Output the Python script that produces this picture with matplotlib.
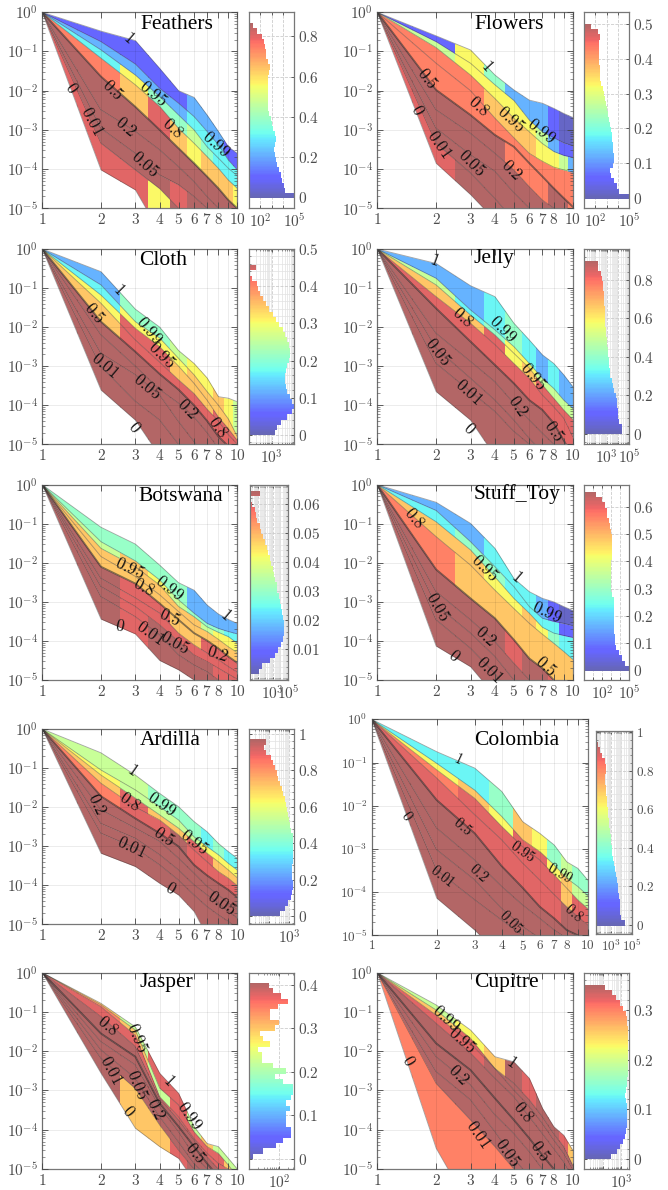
import numpy as np
import matplotlib
matplotlib.use("Agg")
import matplotlib.pyplot as plt
from matplotlib.patches import Rectangle
from matplotlib.ticker import FixedLocator, NullFormatter, LogLocator, AutoMinorLocator

plt.rcParams["mathtext.fontset"] = "cm"
plt.rcParams["font.family"] = ["Liberation Serif", "DejaVu Serif"]

W, H = 668, 1190

levels = ["0", "0.01", "0.05", "0.2", "0.5", "0.8", "0.95", "0.99", "1"]
x_nodes = [1, 2, 3, 4, 5, 6, 7, 8, 9, 10]
x_tick_text = ["1", "2", "3", "4", "5", "6", "7", "8", "", "10"]
bin_edges = [1, 1.5, 2.5, 3.5, 4.5, 5.5, 6.5, 7.5, 8.5, 9.5, 10]
# colour steps used in the band tables (0 blue ... 9 dark red, a salmon)
jet_steps = {"0": 0.03, "1": 0.12, "2": 0.25, "3": 0.36, "4": 0.45, "5": 0.55, "6": 0.65,
             "7": 0.74, "8": 0.93, "9": 1.0, "a": 0.86}

# log10 of each quantile curve at x = 2..10, from level 0 up to level 1
feathers_curves = [
    [-4.02, -4.53, -5.6, -6.0, -6.3, -6.6, -6.9, -7.1, -7.3],
    [-3.34, -4.02, -4.5, -5.0, -5.4, -5.8, -6.0, -6.2, -6.4],
    [-2.96, -3.6, -4.15, -4.4, -4.7, -5.0, -5.3, -5.6, -5.9],
    [-2.49, -3.04, -3.51, -3.94, -4.32, -4.7, -5.0, -5.3, -5.6],
    [-1.64, -2.41, -3.0, -3.47, -3.85, -4.19, -4.49, -4.79, -5.0],
    [-1.17, -1.85, -2.4, -2.96, -3.34, -3.68, -3.98, -4.28, -4.49],
    [-0.96, -1.6, -2.15, -2.62, -3.0, -3.43, -3.72, -3.98, -4.17],
    [-0.75, -1.32, -1.94, -2.32, -2.66, -3.04, -3.38, -3.77, -4.02],
    [-0.48, -0.72, -1.43, -2.0, -2.17, -2.62, -3.04, -3.43, -3.6],
]
flowers_curves = [
    [-3.85, -4.65, -5.3, -5.9, -6.3, -6.6, -6.9, -7.1, -7.3],
    [-3.34, -4.1, -4.75, -5.3, -5.7, -6.0, -6.3, -6.5, -6.7],
    [-2.96, -3.64, -4.06, -4.6, -5.0, -5.4, -5.7, -6.0, -6.2],
    [-2.49, -3.09, -3.6, -4.02, -4.45, -4.79, -5.0, -5.2, -5.4],
    [-1.98, -2.62, -3.13, -3.43, -3.85, -4.19, -4.49, -4.74, -4.96],
    [-1.3, -2.0, -2.7, -3.2, -3.6, -3.8, -3.95, -4.02, -4.08],
    [-0.9, -1.6, -2.2, -2.7, -3.05, -3.35, -3.55, -3.65, -3.7],
    [-0.75, -1.3, -1.85, -2.25, -2.75, -3.05, -3.2, -3.33, -3.4],
    [-0.6, -0.96, -1.6, -1.98, -2.24, -2.32, -2.45, -2.58, -2.68],
]
cloth_curves = [
    [-3.61, -4.38, -5.3, -5.8, -6.2, -6.6, -6.9, -7.2, -7.4],
    [-3.01, -3.9, -4.38, -5.0, -5.5, -5.9, -6.2, -6.5, -6.7],
    [-2.67, -3.22, -3.74, -4.42, -4.93, -5.4, -5.8, -6.1, -6.3],
    [-2.2, -3.0, -3.6, -3.95, -4.3, -4.7, -5.1, -5.4, -5.7],
    [-1.86, -2.63, -3.2, -3.6, -4.0, -4.4, -4.8, -5.05, -5.3],
    [-1.39, -2.33, -2.9, -3.35, -3.7, -4.1, -4.4, -4.75, -5.0],
    [-1.18, -2.03, -2.5, -3.0, -3.44, -3.87, -4.3, -4.6, -4.9],
    [-0.92, -1.86, -2.28, -2.8, -3.22, -3.65, -4.0, -4.35, -4.8],
    [-0.58, -1.54, -2.0, -2.6, -2.93, -3.3, -3.78, -3.82, -3.91],
]
jelly_curves = [
    [-3.65, -4.38, -5.3, -5.8, -6.2, -6.5, -6.8, -7.0, -7.2],
    [-2.93, -3.65, -4.16, -4.67, -5.0, -5.4, -5.7, -6.0, -6.2],
    [-2.54, -3.31, -3.87, -4.38, -4.85, -5.2, -5.5, -5.8, -6.0],
    [-2.16, -2.88, -3.4, -3.95, -4.38, -4.72, -5.0, -5.3, -5.5],
    [-1.52, -2.37, -2.97, -3.44, -3.87, -4.12, -4.46, -4.9, -5.3],
    [-1.22, -1.9, -2.45, -2.93, -3.31, -3.74, -4.04, -4.33, -4.8],
    [-0.92, -1.69, -2.2, -2.67, -3.05, -3.48, -3.82, -4.12, -4.36],
    [-0.75, -1.56, -2.07, -2.5, -2.93, -3.31, -3.57, -3.87, -4.08],
    [-0.37, -0.94, -1.22, -1.9, -2.33, -2.71, -2.93, -3.22, -3.52],
]
botswana_curves = [
    [-3.44, -3.82, -4.5, -4.74, -5.0, -5.3, -5.5, -5.7, -5.9],
    [-2.87, -3.38, -3.85, -4.36, -4.62, -4.79, -5.0, -5.2, -5.3],
    [-2.61, -3.12, -3.59, -4.02, -4.36, -4.53, -4.7, -4.85, -4.98],
    [-2.4, -2.9, -3.29, -3.8, -4.1, -4.31, -4.48, -4.66, -4.8],
    [-2.1, -2.53, -3.04, -3.46, -3.8, -3.99, -4.19, -4.4, -4.56],
    [-1.84, -2.35, -2.82, -3.25, -3.59, -3.76, -3.96, -4.15, -4.3],
    [-1.63, -2.1, -2.57, -3.12, -3.38, -3.64, -3.78, -3.89, -4.06],
    [-1.46, -1.95, -2.44, -2.95, -3.29, -3.55, -3.68, -3.76, -3.82],
    [-1.09, -1.52, -2.06, -2.51, -2.7, -3.08, -3.31, -3.45, -3.55],
]
stuff_toy_curves = [
    [-4.13, -4.66, -5.4, -5.9, -6.3, -6.6, -6.9, -7.1, -7.3],
    [-3.46, -4.19, -4.83, -5.5, -5.9, -6.2, -6.5, -6.7, -6.9],
    [-3.08, -3.8, -4.4, -5.0, -5.4, -5.8, -6.1, -6.3, -6.5],
    [-2.74, -3.46, -4.02, -4.57, -5.0, -5.4, -5.7, -6.0, -6.2],
    [-2.17, -2.91, -3.42, -3.97, -4.45, -4.7, -5.0, -5.3, -5.5],
    [-1.33, -2.06, -2.7, -3.17, -3.55, -3.83, -4.06, -4.27, -4.47],
    [-0.95, -1.67, -2.36, -2.91, -3.29, -3.65, -3.8, -3.86, -3.91],
    [-0.66, -1.46, -2.1, -2.61, -3.12, -3.42, -3.5, -3.55, -3.61],
    [-0.45, -0.99, -1.63, -2.4, -2.74, -2.91, -3.0, -3.12, -3.22],
]
ardilla_curves = [
    [-3.18, -3.52, -3.95, -4.25, -4.67, -5.3, -5.7, -6.0, -6.2],
    [-2.67, -3.05, -3.48, -3.87, -4.25, -4.55, -4.76, -4.93, -5.1],
    [-2.42, -2.8, -3.22, -3.61, -3.99, -4.25, -4.46, -4.67, -4.84],
    [-2.07, -2.54, -2.88, -3.31, -3.69, -4.03, -4.25, -4.46, -4.63],
    [-1.72, -2.29, -2.67, -3.01, -3.48, -3.75, -3.95, -4.12, -4.31],
    [-1.39, -2.0, -2.33, -2.71, -3.1, -3.4, -3.65, -3.82, -4.01],
    [-1.18, -1.77, -2.2, -2.54, -2.88, -3.18, -3.4, -3.61, -3.81],
    [-1.05, -1.56, -1.99, -2.33, -2.76, -3.01, -3.22, -3.44, -3.61],
    [-0.61, -1.18, -1.65, -1.99, -2.37, -2.63, -2.93, -3.14, -3.31],
]
colombia_curves = [
    [-4.14, -4.88, -5.5, -6.0, -6.4, -6.7, -7.0, -7.2, -7.4],
    [-3.49, -4.18, -4.65, -5.0, -5.4, -5.7, -6.0, -6.2, -6.4],
    [-3.02, -3.72, -4.38, -4.8, -5.07, -5.4, -5.7, -5.9, -6.1],
    [-2.52, -3.26, -3.87, -4.3, -4.61, -4.88, -5.07, -5.3, -5.5],
    [-1.87, -2.64, -3.4, -3.9, -4.34, -4.61, -4.88, -5.0, -5.2],
    [-1.36, -2.21, -2.79, -3.33, -3.72, -4.06, -4.34, -4.57, -4.76],
    [-1.17, -1.83, -2.48, -2.95, -3.26, -3.6, -3.91, -4.18, -4.38],
    [-1.02, -1.64, -2.25, -2.79, -3.06, -3.37, -3.68, -3.87, -4.08],
    [-0.75, -1.13, -1.67, -2.37, -2.64, -2.91, -3.3, -3.45, -3.72],
]
jasper_curves = [
    [-2.56, -3.96, -4.43, -4.73, -5.3, -5.7, -6.0, -6.2, -6.4],
    [-2.18, -2.95, -3.88, -4.52, -5.0, -5.4, -5.7, -6.0, -6.2],
    [-1.97, -2.69, -3.67, -4.31, -4.86, -5.2, -5.5, -5.8, -6.0],
    [-1.76, -2.35, -3.41, -4.05, -4.65, -5.0, -5.3, -5.6, -5.8],
    [-1.55, -2.14, -3.33, -3.92, -4.43, -4.86, -5.2, -5.4, -5.6],
    [-1.12, -1.88, -3.2, -3.75, -4.26, -4.69, -5.0, -5.3, -5.5],
    [-0.87, -1.59, -3.16, -3.67, -4.22, -4.6, -4.86, -5.0, -5.3],
    [-0.82, -1.46, -2.94, -3.37, -4.05, -4.43, -4.6, -4.9, -5.2],
    [-0.78, -1.38, -2.56, -3.07, -3.92, -4.35, -4.43, -4.73, -5.0],
]
cupitre_curves = [
    [-4.47, -6.0, -6.8, -7.3, -7.7, -8.0, -8.3, -8.5, -8.7],
    [-2.82, -3.75, -4.43, -5.0, -5.5, -5.9, -6.2, -6.5, -6.7],
    [-2.52, -3.24, -4.05, -4.73, -5.2, -5.6, -5.9, -6.2, -6.4],
    [-2.14, -2.86, -3.62, -4.1, -4.56, -5.0, -5.3, -5.6, -5.8],
    [-1.8, -2.48, -3.2, -3.75, -4.22, -4.65, -5.0, -5.3, -5.5],
    [-1.29, -2.05, -2.69, -3.16, -3.67, -4.1, -4.48, -4.82, -5.2],
    [-1.08, -1.8, -2.44, -2.99, -3.41, -3.84, -4.26, -4.6, -5.0],
    [-0.95, -1.67, -2.44, -2.82, -3.24, -3.67, -4.1, -4.43, -4.9],
    [-0.82, -1.46, -2.14, -2.27, -2.69, -3.45, -3.92, -4.14, -4.52],
]

# colour of each band in each x bin, bands from the lowest up to the top one
feathers_bands = ["8886999999", "9999899999", "9999999999", "9999999999",
                  "aa78767776", "3364454333", "2222233333", "1111122211"]
flowers_bands = ["8899999999", "9999999999", "9999999999", "9999aaa99a",
                 "aaaaaaaaaa", "aaa7776652", "5566665211", "1164222100"]
cloth_bands = ["9999999999", "9999999999", "9999999999", "9999999999",
               "7788888888", "6688777888", "3366677777", "2244566765"]
jelly_bands = ["9999999999", "9999999999", "9999999999", "9999999999",
               "8888888888", "7778678888", "5534665555", "2223432322"]
botswana_bands = ["9989999999", "9989999888", "9988888888", "9988778888",
                  "7777777777", "7777775666", "5576544433", "4444422222"]
stuff_toy_bands = ["9999999999", "9999999999", "9999999999", "9999899888",
                   "aa77777777", "7776676433", "3344333311", "2223332100"]
ardilla_bands = ["9999999999", "9999999999", "9999999999", "9999999999",
                 "aa88988888", "7787788777", "6655556666", "5554443433"]
colombia_bands = ["9999999999", "9999999999", "9999999999", "9999999999",
                  "8888888999", "aa88888788", "6676886755", "3334764544"]
jasper_bands = ["9977899999", "9999999999", "9999999999", "9999999999",
                "9999999999", "8888888888", "aa75888877", "7758857555"]
cupitre_bands = ["aaaaaaaaaa", "9999999999", "9999999999", "9999999999",
                 "9999999999", "8889999999", "7789999999", "5567989987"]

# log10 of the histogram counts, from the lowest bin up
feathers_hist = [5.0, 4.2, 4.1, 3.9, 3.8, 3.7, 3.5, 3.4, 3.3, 3.2, 3.3, 3.4, 3.3, 3.1, 3.0, 2.9, 2.8,
                 2.7, 2.7, 2.7, 2.65, 2.65, 2.65, 2.7, 2.8, 2.85, 2.7, 2.5, 2.45, 2.4, 2.3, 2.1, 1.7, 1.3]
flowers_hist = [5.0, 4.1, 3.9, 3.7, 3.4, 3.35, 3.6, 3.65, 3.65, 3.6, 3.55, 3.5, 3.45, 3.4, 3.35, 3.25, 3.15,
                3.05, 2.95, 2.85, 2.75, 2.65, 2.55, 2.45, 2.4, 2.4, 2.35, 2.35, 2.35, 2.3, 2.3, 2.4, 2.2, 1.6]
cloth_hist = [3.15, 3.25, 3.4, 3.7, 3.9, 3.98, 3.9, 3.8, 3.7, 3.65, 3.6, 3.6, 3.62, 3.7, 3.78, 3.8, 3.8,
              3.78, 3.7, 3.6, 3.5, 3.35, 3.2, 3.05, 2.9, 2.75, 2.6, 2.5, 2.4, 2.33, 2.1, 2.05, 2.3, 2.05]
jelly_hist = [4.35, 4.35, 4.1, 4.05, 4.0, 3.95, 3.9, 3.8, 3.65, 3.55, 3.45, 3.35, 3.3, 3.25, 3.2, 3.1, 3.1,
              3.05, 3.0, 2.95, 2.95, 2.9, 2.9, 2.85, 2.85, 2.8, 2.8, 2.75, 2.7, 2.65, 2.6, 2.5, 2.25, 2.2]
botswana_hist = [1.2, 1.6, 2.6, 3.3, 3.7, 4.1, 4.3, 4.45, 4.5, 4.5, 4.4, 4.2, 4.05, 3.9, 3.75, 3.6, 3.5,
                 3.35, 3.2, 3.0, 2.8, 2.6, 2.4, 2.2, 2.0, 1.75, 1.5, 1.25, 0.95, 0.8, 0.6, 0.3, 0.15, 1.3]
stuff_toy_hist = [5.0, 4.5, 4.2, 3.9, 3.6, 3.45, 3.4, 3.35, 3.33, 3.33, 3.3, 3.33, 3.35, 3.3, 3.15, 3.05, 3.0,
                  2.95, 2.95, 3.0, 3.05, 3.1, 3.15, 3.15, 3.15, 3.1, 3.0, 2.85, 2.75, 2.6, 2.5, 2.35, 2.05, 1.3]
ardilla_hist = [2.55, 2.8, 2.95, 3.1, 3.15, 3.17, 3.16, 3.15, 3.14, 3.15, 3.17, 3.2, 3.2, 3.2, 3.18, 3.17, 3.1,
                3.05, 3.0, 2.95, 2.88, 2.82, 2.78, 2.7, 2.62, 2.55, 2.45, 2.36, 2.3, 2.2, 2.1, 1.85, 1.75, 1.85]
colombia_hist = [4.4, 4.0, 3.85, 3.85, 3.85, 3.8, 3.7, 3.65, 3.55, 3.5, 3.4, 3.3, 3.25, 3.15, 3.1, 3.05, 3.0,
                 2.95, 2.85, 2.8, 2.75, 2.7, 2.65, 2.6, 2.55, 2.5, 2.4, 2.45, 2.55, 2.5, 2.45, 2.1, 1.95, 1.8]
jasper_hist = [1.13, 1.47, 1.91, 2.13, 2.41, 2.41, 2.24, 2.24, 2.24, 2.36, 2.24, 2.41, 2.47, 2.47, 2.13, 1.86, 2.24,
               1.8, 1.41, 1.41, 1.3, 1.69, 1.47, 1.36, 1.86, 2.0, 1.69, 1.69, 1.97, 2.3, 2.08, 1.8, 1.67]
cupitre_hist = [2.45, 2.75, 2.95, 3.1, 3.18, 3.24, 3.28, 3.3, 3.32, 3.3, 3.28, 3.24, 3.22, 3.24, 3.28, 3.32, 3.34,
                3.36, 3.36, 3.36, 3.38, 3.38, 3.38, 3.36, 3.36, 3.34, 3.32, 3.3, 3.26, 3.1, 2.95, 2.7, 2.5, 2.15]

# contour labels: level text, axes fraction x, y, rotation
feathers_labels = [("1", .44, .867, -40), ("0.95", .569, .582, -40), ("0.99", .89, .323, -42), ("0.8", .667, .403, -42),
                   ("0.5", .359, .6, -45), ("0.2", .424, .411, -40), ("0.05", .526, .226, -42), ("0.01", .253, .442, -62),
                   ("0", .145, .612, -55)]
flowers_labels = [("1", .558, .726, -48), ("0.5", .256, .66, -52), ("0.8", .515, .515, -42), ("0.95", .683, .454, -42),
                  ("0.99", .836, .391, -38), ("0", .2, .498, -62), ("0.01", .316, .323, -55), ("0.05", .481, .23, -45),
                  ("0.2", .683, .19, -45)]
cloth_labels = [("1", .39, .79, -45), ("0.5", .265, .671, -50), ("0.99", .544, .58, -50), ("0.95", .612, .457, -45),
                ("0.01", .321, .401, -40), ("0.05", .535, .292, -40), ("0.2", .744, .176, -45), ("0.8", .897, .082, -55),
                ("0", .467, .085, -50)]
jelly_labels = [("1", .29, .939, -20), ("0.8", .435, .648, -42), ("0.99", .64, .585, -45), ("0.95", .794, .346, -50),
                ("0.05", .307, .471, -52), ("0.01", .466, .265, -42), ("0.2", .717, .19, -55), ("0.5", .901, .065, -55),
                ("0", .469, .077, -45)]
botswana_labels = [("0.95", .447, .572, -25), ("0.8", .519, .469, -28), ("0.99", .648, .466, -38), ("1", .937, .329, -40),
                   ("0.5", .655, .316, -25), ("0", .396, .27, -10), ("0.01", .549, .239, -35), ("0.05", .68, .191, -30),
                   ("0.2", .898, .131, -18)]
stuff_toy_labels = [("0.8", .188, .828, -50), ("0.95", .546, .572, -45), ("1", .713, .526, -40), ("0.99", .865, .345, -25),
                    ("0.05", .307, .372, -60), ("0", .389, .119, -40), ("0.2", .555, .222, -42), ("0.01", .572, .051, -45),
                    ("0.5", .862, .068, -42)]
ardilla_labels = [("1", .462, .785, -35), ("0.99", .607, .611, -35), ("0.8", .446, .623, -35), ("0.2", .274, .611, -65),
                  ("0.5", .624, .445, -35), ("0.95", .778, .418, -38), ("0.01", .458, .392, -25), ("0", .658, .181, -30),
                  ("0.05", .92, .108, -35)]
colombia_labels = [("1", .401, .815, -25), ("0", .165, .552, -55), ("0.5", .42, .506, -40), ("0.95", .698, .39, -35),
                   ("0.99", .872, .287, -30), ("0.8", .934, .102, -42), ("0.01", .327, .276, -38), ("0.2", .497, .29, -42),
                   ("0.05", .644, .063, -45)]
jasper_labels = [("0.8", .333, .725, -40), ("0.95", .487, .666, -68), ("1", .646, .45, -45), ("0.01", .347, .504, -62),
                 ("0.05", .484, .428, -68), ("0.2", .581, .3, -65), ("0", .438, .289, -50), ("0.99", .752, .267, -55),
                 ("0.5", .783, .08, -50)]
cupitre_labels = [("0.99", .35, .767, -42), ("0.95", .43, .657, -42), ("1", .683, .543, -35), ("0", .157, .55, -60),
                  ("0.2", .415, .474, -45), ("0.8", .747, .284, -50), ("0.01", .515, .173, -55), ("0.05", .662, .083, -55),
                  ("0.5", .833, .088, -55)]

names = ["Feathers", "Flowers", "Cloth", "Jelly", "Botswana", "Stuff_Toy", "Ardilla", "Colombia", "Jasper", "Cupitre"]
all_curves = [feathers_curves, flowers_curves, cloth_curves, jelly_curves, botswana_curves,
              stuff_toy_curves, ardilla_curves, colombia_curves, jasper_curves, cupitre_curves]
all_bands = [feathers_bands, flowers_bands, cloth_bands, jelly_bands, botswana_bands,
             stuff_toy_bands, ardilla_bands, colombia_bands, jasper_bands, cupitre_bands]
all_hist = [feathers_hist, flowers_hist, cloth_hist, jelly_hist, botswana_hist,
            stuff_toy_hist, ardilla_hist, colombia_hist, jasper_hist, cupitre_hist]
all_labels = [feathers_labels, flowers_labels, cloth_labels, jelly_labels, botswana_labels,
              stuff_toy_labels, ardilla_labels, colombia_labels, jasper_labels, cupitre_labels]

# layout in pixels of the reference: left, top, right, bottom
main_boxes = [(42.3, 12.3, 237.3, 208.3), (377.3, 12.3, 572.7, 208.3),
              (42.3, 249, 237.3, 444.3), (377.3, 249, 572.7, 444.3),
              (42.3, 484.7, 237.3, 680), (377.3, 484.7, 572.7, 680),
              (42.3, 729, 237.3, 924.3), (371.7, 719.3, 587.7, 935.3),
              (42.3, 972.7, 237.3, 1169), (377.3, 972.7, 572.7, 1169)]
hist_boxes = [(249.3, 12.3, 294, 208.3), (584, 12.3, 629, 208.3),
              (249.3, 249, 294, 444.3), (584, 249, 629, 444.3),
              (250, 484.7, 288, 680), (584, 484.7, 629, 680),
              (249.3, 729, 294, 924.3), (596.3, 730.7, 631.7, 934),
              (249.3, 972.7, 294, 1169), (584, 972.7, 629, 1169)]
title_pos = [(.689, .94), (.674, .94), (.62, .94), (.597, .95), (.711, .94),
             (.717, .95), (.658, .94), (.67, .90), (.638, .95), (.66, .95)]

hist_ylim = [(-.055, .92), (-.03, .534), (-.025, .5), (-.054, .96), (-.0005, .0666),
             (-.035, .681), (-.046, 1.027), (-.047, 1.0085), (-.023, .428), (-.02, .375)]
hist_span = [(-.005, .865), (-.003, .5), (0, .47), (0, .9), (.0015, .0645),
             (-.003, .655), (0, .97), (-.005, .95), (0, .405), (0, .35)]
hist_xlim = [(1, 5), (1, 5), (2, 4), (1, 5), (0, 5), (0, 5), (1, 3.23), (1.6, 5), (1, 2.5), (1, 3.41)]
hist_xticks = [[2, 5], [2, 5], [3], [3, 5], [3, 5], [2, 5], [3], [3, 5], [2], [3]]
hist_yticks = [[0, .2, .4, .6, .8], [0, .1, .2, .3, .4, .5], [0, .1, .2, .3, .4, .5], [0, .2, .4, .6, .8],
               [.01, .02, .03, .04, .05, .06], [0, .1, .2, .3, .4, .5, .6], [0, .2, .4, .6, .8, 1],
               [0, .2, .4, .6, .8, 1], [0, .1, .2, .3, .4], [0, .1, .2, .3]]
dense_grid = [False, False, True, True, True, False, True, True, False, True]

text_gray = "#4d4d4d"
edge_gray = "#777777"
fig = plt.figure(figsize=(W / 100, H / 100), dpi=100)


def add_box(box):
    left, top, right, bottom = box
    return fig.add_axes([left / W, 1 - bottom / H, (right - left) / W, (bottom - top) / H])


def pale(value):
    # jet at 60% opacity over white, opaque so neighbouring patches show no seams
    rgb = np.array(plt.cm.jet(value))[..., :3]
    return rgb * 0.6 + 0.4


def style_spines(ax):
    for s in ax.spines.values():
        s.set_color(edge_gray)
        s.set_linewidth(0.9)


def draw_main(ax, curves, bands, labels, name, tpos, fs):
    xs = np.array(x_nodes, dtype=float)
    ys = [np.r_[1.0, 10.0 ** np.array(c)] for c in curves]
    ax.set_xscale("log")
    ax.set_yscale("log")
    ax.set_xlim(1, 10)
    ax.set_ylim(1e-5, 1)
    for b, row in enumerate(bands):
        for k, code in enumerate(row):
            lo, hi = bin_edges[k], bin_edges[k + 1]
            poly = ax.fill_between(xs, ys[b], ys[b + 1], color=pale(jet_steps[code]), lw=0, zorder=1)
            poly.set_clip_path(Rectangle((lo, 1e-5), hi - lo, 1, transform=ax.transData))
    # grid sits faintly over the fills, as it shows through them in the reference
    ax.grid(True, which="major", color="black", alpha=0.09, lw=0.6, zorder=1.5)
    ax.set_axisbelow(False)
    for i, y in enumerate(ys):
        if levels[i] == "0.5":
            ax.plot(xs, y, color="#222222", lw=1.3, alpha=0.55, zorder=2)
        else:
            ax.plot(xs, y, color="#222222", lw=0.6, alpha=0.4, zorder=2)
    for txt, fx, fy, rot in labels:
        ax.text(fx, fy, "$" + txt + "$", transform=ax.transAxes, rotation=rot, rotation_mode="anchor",
                ha="center", va="center", fontsize=fs + 1, color="#111111", zorder=3)
    ax.text(tpos[0], tpos[1], name, transform=ax.transAxes, ha="center", va="center", fontsize=15.5, color="black", zorder=3)
    ax.xaxis.set_major_locator(FixedLocator(x_nodes))
    ax.set_xticklabels(["$" + t + "$" if t else "" for t in x_tick_text])
    ax.xaxis.set_minor_formatter(NullFormatter())
    ax.yaxis.set_major_locator(FixedLocator([1e-5, 1e-4, 1e-3, 1e-2, 1e-1, 1]))
    ax.set_yticklabels(["$10^{%d}$" % v for v in [-5, -4, -3, -2, -1, 0]])
    ax.yaxis.set_minor_locator(LogLocator(10, subs=np.arange(2, 10), numticks=12))
    ax.yaxis.set_minor_formatter(NullFormatter())
    ax.tick_params(axis="both", which="major", direction="in", top=True, right=True, length=4, width=0.6,
                   color="#444444", labelsize=fs, labelcolor=text_gray, pad=3)
    ax.tick_params(axis="both", which="minor", direction="in", top=True, right=True, length=2, width=0.4, color="#444444")
    style_spines(ax)


def draw_hist(ax, values, span, ylim, xlim, xticks, yticks, dense, fs):
    # each bin is cut in four so the colour runs smoothly along the axis
    v = np.repeat(10.0 ** np.array(values), 4)
    edges = np.linspace(span[0], span[1], len(v) + 1)
    centers = (edges[:-1] + edges[1:]) / 2
    xmin = 10.0 ** xlim[0]
    shades = pale((centers - span[0]) / (span[1] - span[0]))
    ax.barh(centers, v - xmin, left=xmin, height=(edges[1] - edges[0]) * 1.05, color=shades, lw=0)
    ax.set_xscale("log")
    ax.set_xlim(10.0 ** xlim[0], 10.0 ** xlim[1])
    ax.set_ylim(ylim)
    ax.set_axisbelow(True)
    ax.xaxis.set_major_locator(FixedLocator([10.0 ** d for d in range(0, 6)]))
    ax.xaxis.set_minor_formatter(NullFormatter())
    ax.set_xticklabels(["$10^{%d}$" % d if d in xticks else "" for d in range(0, 6)])
    ax.yaxis.tick_right()
    ax.yaxis.set_major_locator(FixedLocator(yticks))
    ax.set_yticklabels(["$%g$" % t for t in yticks])
    ax.grid(True, which="major", color="#cccccc", lw=0.6, ls="--")
    if dense:
        ax.xaxis.set_minor_locator(LogLocator(10, subs=np.arange(2, 10), numticks=12))
        ax.yaxis.set_minor_locator(AutoMinorLocator(5))
        ax.grid(True, which="minor", color="#e2e2e2", lw=0.5)
    ax.tick_params(axis="both", which="major", direction="in", top=True, left=True, right=True, length=2.5, width=0.6,
                   color="#444444", labelsize=fs, labelcolor=text_gray, pad=3)
    ax.tick_params(axis="both", which="minor", direction="in", top=True, left=True, right=True, length=1.2, width=0.4, color="#444444")
    style_spines(ax)


for i, name in enumerate(names):
    fs = 9.5 if name == "Colombia" else 11
    ax = add_box(main_boxes[i])
    draw_main(ax, all_curves[i], all_bands[i], all_labels[i], name, title_pos[i], fs)
    hax = add_box(hist_boxes[i])
    draw_hist(hax, all_hist[i], hist_span[i], hist_ylim[i], hist_xlim[i], hist_xticks[i], hist_yticks[i],
              dense_grid[i], fs)

fig.savefig("out.png", dpi=100)
